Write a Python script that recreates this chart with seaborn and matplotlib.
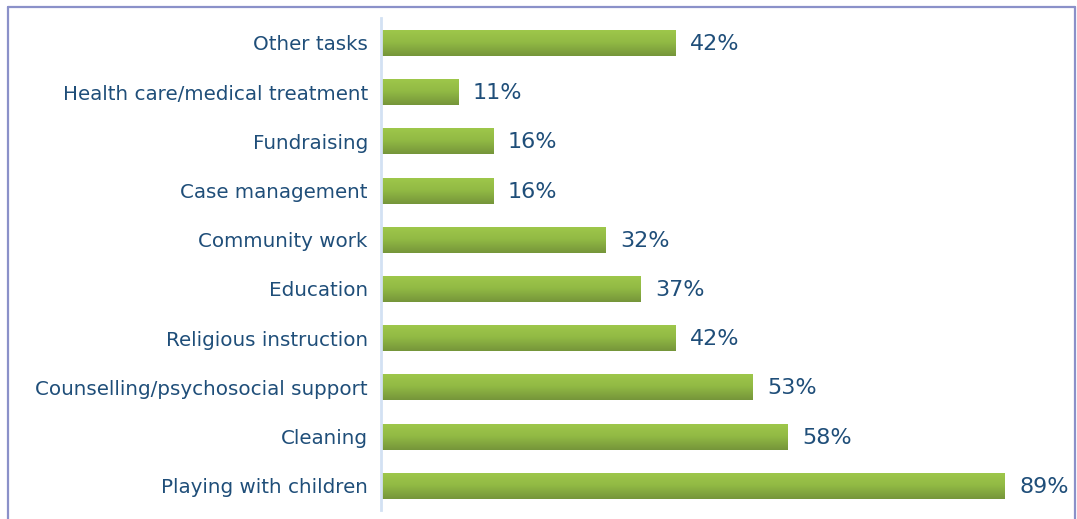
import numpy as np
import pandas as pd
import matplotlib
matplotlib.use("Agg")
import matplotlib.pyplot as plt
import seaborn as sns
from matplotlib.colors import LinearSegmentedColormap
from matplotlib.lines import Line2D

tasks = [
    "Other tasks",
    "Health care/medical treatment",
    "Fundraising",
    "Case management",
    "Community work",
    "Education",
    "Religious instruction",
    "Counselling/psychosocial support",
    "Cleaning",
    "Playing with children",
]
shares = [42, 11, 16, 16, 32, 37, 42, 53, 58, 89]

df = pd.DataFrame({"task": tasks, "share": shares})

sns.set_theme(style="white")
plt.rcParams["font.family"] = ["DejaVu Sans"]

text_color = "#1f4e79"
fig = plt.figure(figsize=(10.77, 5.19), dpi=100)
ax = fig.add_axes([381 / 1077, 8.6 / 519, (1060 - 381) / 1077, 492 / 519])

sns.barplot(data=df, x="share", y="task", order=tasks, orient="h",
            color="#8db043", width=0.53, ax=ax)

ax.set_xlim(0, (1060 - 381) / 7.01)
ax.set_ylim(len(tasks) - 0.5, -0.5)

# vertical green gradient inside each bar
cmap = LinearSegmentedColormap.from_list("bar", ["#9fc84b", "#91b944", "#75953a"])
grad = np.linspace(0, 1, 256).reshape(-1, 1)
for patch in ax.patches:
    x0, y0 = patch.get_x(), patch.get_y()
    w, h = patch.get_width(), patch.get_height()
    patch.set_edgecolor("none")
    im = ax.imshow(grad, cmap=cmap, aspect="auto",
                   extent=(x0, x0 + w, y0 + h, y0), zorder=patch.get_zorder() + 0.1)
    im.set_clip_path(patch)
    ax.text(x0 + w + 2.1, y0 + h / 2 + 0.02, f"{int(round(w))}%", va="center", ha="left",
            fontsize=16, color=text_color)

ax.set_xlabel("")
ax.set_ylabel("")
ax.set_xticks([])
ax.tick_params(axis="y", length=0, pad=9.5, labelsize=14.3, labelcolor=text_color)
for s in ["top", "right", "bottom"]:
    ax.spines[s].set_visible(False)
ax.spines["left"].set_color("#d3e1f3")
ax.spines["left"].set_linewidth(2)
ax.set_facecolor("white")

# chart frame
frame_color = "#8b91c9"
fig.lines.append(Line2D([8 / 1077, 8 / 1077], [0, 1 - 7 / 519], transform=fig.transFigure,
                        color=frame_color, linewidth=1.6))
fig.lines.append(Line2D([8 / 1077, 1075 / 1077], [1 - 7 / 519, 1 - 7 / 519],
                        transform=fig.transFigure, color=frame_color, linewidth=1.6))
fig.lines.append(Line2D([1075 / 1077, 1075 / 1077], [0, 1 - 7 / 519], transform=fig.transFigure,
                        color=frame_color, linewidth=1.6))

fig.savefig("out.png", dpi=100)
